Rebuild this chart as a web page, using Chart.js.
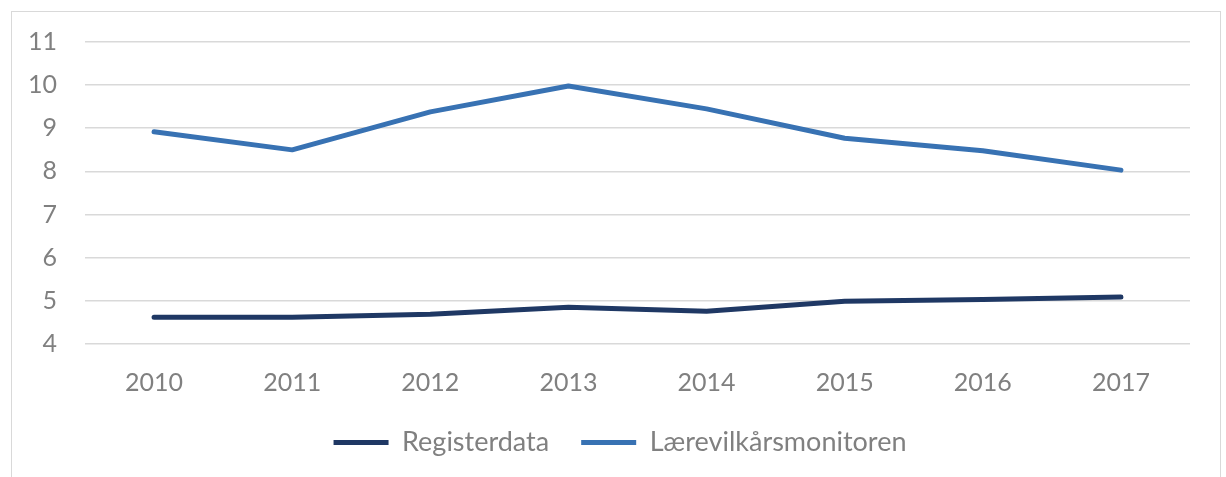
<!DOCTYPE html>
<html lang="no">
<head>
  <meta charset="UTF-8">
  <title>Registerdata og Lærevilkårsmonitoren</title>
  <script src="https://cdn.jsdelivr.net/npm/chart.js"></script>
  <style>
    body { margin: 0; background: #fff; }
    #frame {
      position: absolute; left: 11px; top: 11px;
      width: 1210px; height: 480px; box-sizing: border-box;
      border: 1px solid #d9d9d9; background: #fff;
    }
    #chart-container { position: relative; width: 1208px; height: 465px; }
  </style>
</head>
<body>
  <div id="frame">
    <div id="chart-container">
      <canvas id="lineChart"></canvas>
    </div>
  </div>

  <script>
    // Data
    const years = ['2010', '2011', '2012', '2013', '2014', '2015', '2016', '2017'];
    const registerdata = [4.62, 4.62, 4.69, 4.85, 4.76, 4.99, 5.03, 5.09];
    const laerevilkar = [8.92, 8.50, 9.38, 9.98, 9.45, 8.77, 8.48, 8.03];

    const tickFont = { family: 'Lato, "Open Sans", sans-serif', size: 25, weight: 400 };
    const legendFont = { family: 'Lato, "Open Sans", sans-serif', size: 27, weight: 400 };
    const textColor = '#808080';

    // center the legend under the whole frame, not just left of the right padding
    const legendShift = {
      id: 'legendShift',
      afterLayout(chart) {
        chart.legend.left += 38;
      }
    };

    const ctx = document.getElementById('lineChart').getContext('2d');
    new Chart(ctx, {
      type: 'line',
      data: {
        labels: years,
        datasets: [
          {
            label: 'Registerdata',
            data: registerdata,
            borderColor: '#1f3864',
            backgroundColor: '#1f3864',
            borderWidth: 5,
            borderCapStyle: 'round',
            borderJoinStyle: 'round',
            pointRadius: 0,
            tension: 0
          },
          {
            label: 'Lærevilkårsmonitoren',
            data: laerevilkar,
            borderColor: '#3872b3',
            backgroundColor: '#3872b3',
            borderWidth: 5,
            borderCapStyle: 'round',
            borderJoinStyle: 'round',
            pointRadius: 0,
            tension: 0
          }
        ]
      },
      plugins: [legendShift],
      options: {
        responsive: true,
        maintainAspectRatio: false,
        animation: false,
        layout: { padding: { top: 30, right: 30, bottom: 11, left: 0 } },
        plugins: {
          tooltip: { enabled: false },
          legend: {
            position: 'bottom',
            labels: {
              usePointStyle: true,
              pointStyle: 'line',
              pointStyleWidth: 55,
              padding: 32,
              color: textColor,
              font: legendFont
            }
          }
        },
        scales: {
          x: {
            offset: true,
            grid: { display: false, drawTicks: false },
            border: { display: false },
            ticks: { color: textColor, font: tickFont, padding: 24 },
            afterFit: axis => { axis.height = 53; }
          },
          y: {
            min: 4,
            max: 11,
            ticks: { stepSize: 1, color: textColor, font: tickFont, padding: 28 },
            grid: { color: '#d9d9d9', lineWidth: 1.6, drawTicks: false },
            border: { display: false },
            afterFit: axis => {
              axis.width = 73;
              axis.paddingTop = 0;
              axis.paddingBottom = 0;
            }
          }
        }
      }
    });
  </script>
</body>
</html>
